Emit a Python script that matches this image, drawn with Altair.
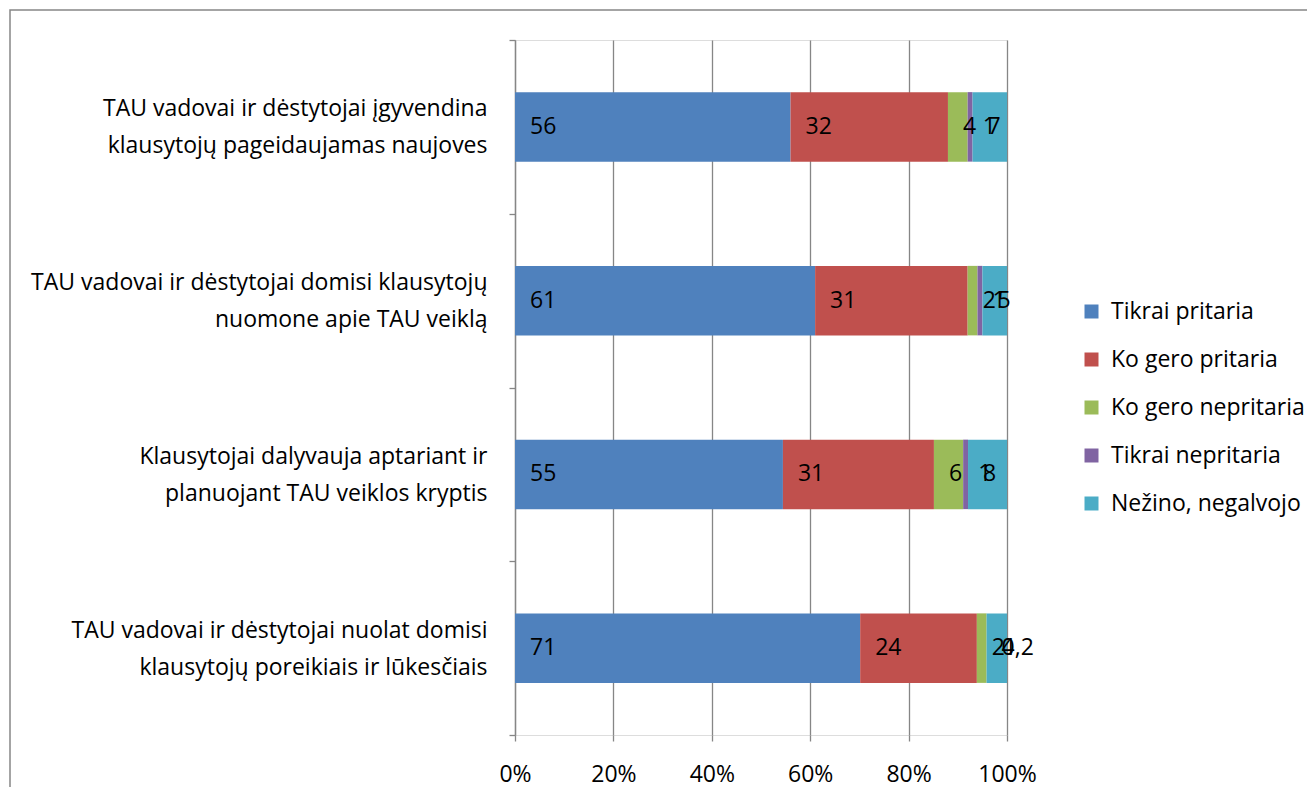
import altair as alt
import pandas as pd

questions = [
    "TAU vadovai ir dėstytojai įgyvendina|klausytojų pageidaujamas naujoves",
    "TAU vadovai ir dėstytojai domisi klausytojų|nuomone apie TAU veiklą",
    "Klausytojai dalyvauja aptariant ir|planuojant TAU veiklos kryptis",
    "TAU vadovai ir dėstytojai nuolat domisi|klausytojų poreikiais ir lūkesčiais",
]
series = ["Tikrai pritaria", "Ko gero pritaria", "Ko gero nepritaria",
          "Tikrai nepritaria", "Nežino, negalvojo"]
colors = ["#4F81BD", "#C0504D", "#9BBB59", "#8064A2", "#4BACC6"]

tikrai_pritaria = [56, 61, 55, 71]
ko_gero_pritaria = [32, 31, 31, 24]
ko_gero_nepritaria = [4, 2, 6, 2]
tikrai_nepritaria = [1, 1, 1, 0]
nezino = [7, 5, 8, 4.2]

cols = [tikrai_pritaria, ko_gero_pritaria, ko_gero_nepritaria, tikrai_nepritaria, nezino]
rows = []
for qi, q in enumerate(questions):
    for si, s in enumerate(series):
        rows.append({"q": q, "qi": qi, "s": s, "si": si, "value": cols[si][qi]})
df = pd.DataFrame(rows)

FONT = "Open Sans"
FS = 23
W, H = 492, 695
GRAY = "#868686"

base = alt.Chart(df).transform_stack(
    stack="value", groupby=["q"], sort=[alt.SortField("si")],
    offset="normalize", as_=["x0", "x1"]
).transform_calculate(
    lab="replace(toString(datum.value), '.', ',')"
)

y_enc = alt.Y("q:N", sort=questions, title=None,
              scale=alt.Scale(paddingInner=0, paddingOuter=0),
              axis=alt.Axis(labelExpr="split(datum.label, '|')", labelFontSize=FS,
                            labelFont=FONT, labelColor="#000", labelLimit=700,
                            labelLineHeight=37, labelOffset=-18, labelPadding=22,
                            labelAlign="right",
                            tickBand="extent", tickSize=6, tickColor=GRAY,
                            tickWidth=1.3, domainColor=GRAY, domainWidth=1.3,
                            grid=False))

bars = base.mark_bar(height=alt.RelativeBandSize(band=0.4)).encode(
    x=alt.X("x0:Q", scale=alt.Scale(domain=[0, 1]), title=None,
            axis=alt.Axis(format=".0%", values=[0, 0.2, 0.4, 0.6, 0.8, 1.0],
                          labelFont=FONT, labelFontSize=FS, labelColor="#000",
                          labelFlush=False, labelPadding=22,
                          tickSize=6, tickColor=GRAY, tickWidth=1.3,
                          domain=False,
                          grid=True, gridColor=GRAY, gridWidth=1.3)),
    x2="x1:Q",
    y=y_enc,
    color=alt.Color("s:N", sort=series,
                    scale=alt.Scale(domain=series, range=colors),
                    legend=alt.Legend(title=None, orient="none", legendX=565, legendY=260,
                                      labelFont=FONT, labelFontSize=FS, labelColor="#000",
                                      symbolType="square", symbolSize=196,
                                      symbolStrokeWidth=0, rowPadding=24,
                                      labelOffset=8, labelLimit=400)),
)

texts = base.mark_text(align="left", baseline="middle", dx=15, font=FONT,
                       fontSize=FS, color="#000").encode(
    x="x0:Q",
    y=alt.Y("q:N", sort=questions),
    text="lab:N",
)

frame = alt.Chart(pd.DataFrame({"a": [0]})).mark_rect(
    fill=None, stroke=GRAY, strokeWidth=1.5
).encode(x=alt.value(-505), x2=alt.value(900), y=alt.value(-30), y2=alt.value(790))

chart = alt.layer(frame, bars, texts).properties(
    width=W, height=H,
    autosize=alt.AutoSizeParams(type="none"),
    padding={"left": 507, "top": 32, "right": 300, "bottom": 52},
).configure_view(stroke=None).configure(background="white")

chart.save("out.html", embed_options={"renderer": "svg", "actions": False})
